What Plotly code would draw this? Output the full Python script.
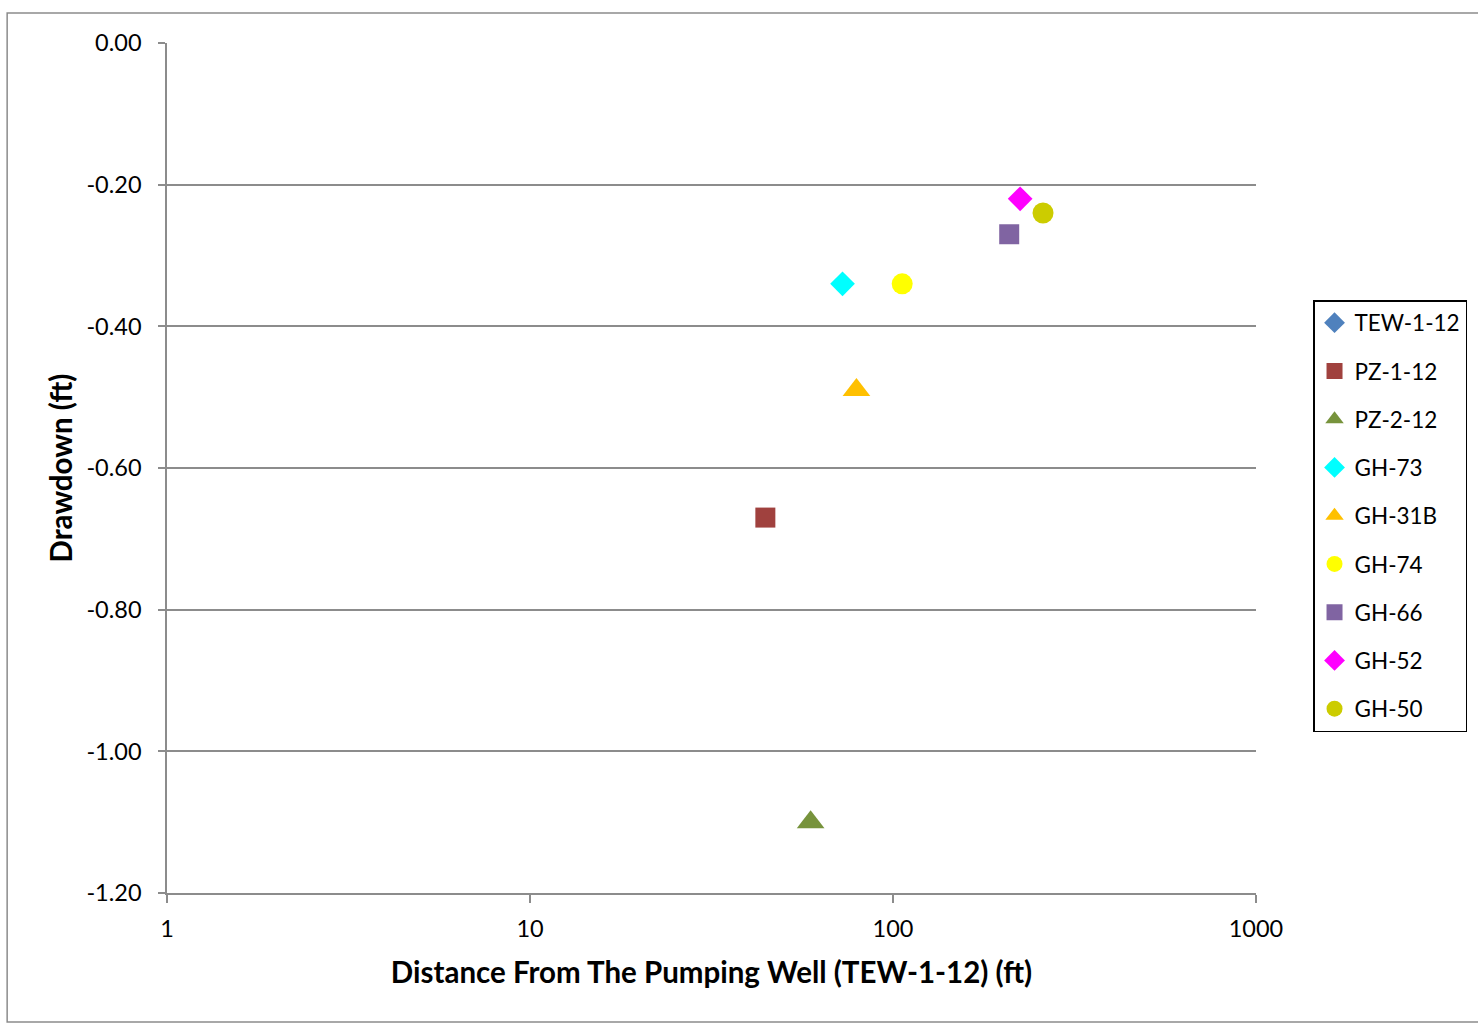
import plotly.graph_objects as go

# Observation wells: distance from the pumping well (ft) and drawdown (ft)
wells = ["TEW-1-12", "PZ-1-12", "PZ-2-12", "GH-73", "GH-31B", "GH-74", "GH-66", "GH-52", "GH-50"]
distance_ft = [None, 44.5, 59.3, 72.6, 79.3, 106, 209, 224, 259]
drawdown_ft = [None, -0.67, -1.10, -0.34, -0.49, -0.34, -0.27, -0.22, -0.24]

symbols = ["diamond", "square", "triangle-up", "diamond", "triangle-up", "circle", "square", "diamond", "circle"]
colors = ["#4F81BD", "#A0413E", "#77933C", "#00FFFF", "#FFC000", "#FFFF00", "#8064A2", "#FF00FF", "#CCCC00"]
sizes = [19, 20, 24, 19, 24, 21, 20, 19, 21]

y_ticks = [0.0, -0.2, -0.4, -0.6, -0.8, -1.0, -1.2]
y_tick_labels = ["0.00", "-0.20", "-0.40", "-0.60", "-0.80", "-1.00", "-1.20"]
x_ticks = [1, 10, 100, 1000]
x_tick_labels = ["1", "10", "100", "1000"]

FONT = "Lato, 'Open Sans', sans-serif"
GRID = "#8C8C8C"

fig = go.Figure()
for i, name in enumerate(wells):
    fig.add_trace(go.Scatter(
        x=[distance_ft[i]], y=[drawdown_ft[i]],
        mode="markers", name=name, legendgroup=name,
        marker=dict(symbol=symbols[i], color=colors[i], size=sizes[i], line=dict(width=0)),
    ))

fig.update_layout(
    width=1478, height=1024,
    margin=dict(l=167, r=221, t=43, b=131),
    paper_bgcolor="white", plot_bgcolor="white",
    font=dict(family=FONT, size=23, color="black"),
    showlegend=True,
    legend=dict(
        x=1.0514, y=0.6976, xanchor="left", yanchor="top",
        bordercolor="black", borderwidth=1.5, bgcolor="white",
        font=dict(size=22.5, family=FONT), tracegroupgap=16,
        itemwidth=30,
    ),
    xaxis=dict(
        type="log", range=[0, 3],
        tickvals=x_ticks, ticktext=x_tick_labels,
        showgrid=False, zeroline=False,
        showline=True, linecolor=GRID, linewidth=1.5,
        ticks="outside", ticklen=8, tickcolor=GRID, tickwidth=1.5,
        ticklabelstandoff=6,
        tickfont=dict(size=23.5, family=FONT),
        title=dict(text="<b>Distance From The Pumping Well (TEW-1-12) (ft)</b>",
                   font=dict(size=29.5, family=FONT), standoff=21),
    ),
    yaxis=dict(
        range=[-1.2, 0],
        tickvals=y_ticks, ticktext=y_tick_labels,
        showgrid=True, gridcolor=GRID, gridwidth=1.5,
        zeroline=False,
        showline=True, linecolor=GRID, linewidth=1.5,
        ticks="outside", ticklen=7, tickcolor=GRID, tickwidth=1.5,
        ticklabelstandoff=12,
        tickfont=dict(size=23.5, family=FONT),
        title=dict(text="<b>Drawdown (ft)</b>", font=dict(size=29.5, family=FONT), standoff=5),
    ),
    shapes=[dict(
        type="rect", xref="paper", yref="paper",
        x0=(7 - 167) / 1090, x1=(1482 - 167) / 1090,
        y0=(893 - 1022) / 850, y1=(893 - 13) / 850,
        line=dict(color="#8C8C8C", width=1.5), layer="below",
    )],
)

fig.write_html("out.html")
